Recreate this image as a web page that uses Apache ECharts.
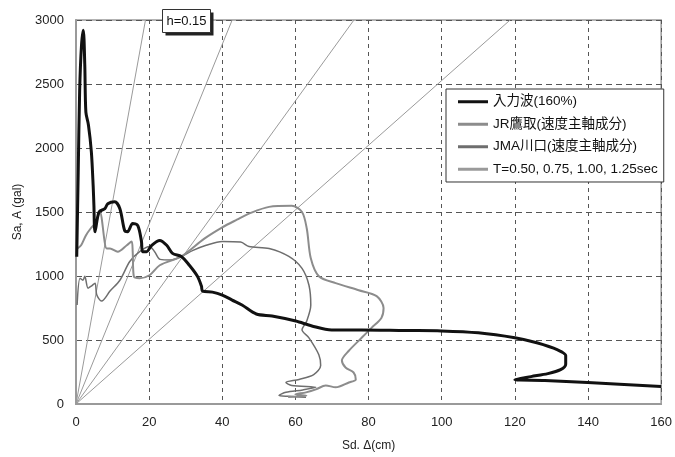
<!DOCTYPE html>
<html>
<head>
<meta charset="utf-8">
<script src="https://cdn.jsdelivr.net/npm/echarts@6/dist/echarts.min.js"></script>
<style>
  html, body { margin: 0; padding: 0; background: #fff; }
  #main { width: 675px; height: 457px; }
</style>
</head>
<body>
<div id="main"></div>
<script>
// 入力波 (160%)
var sdInput = [0.2, 0.6, 1.0, 1.5, 2.0, 2.4, 2.7, 3.4, 4.2, 4.7, 4.9, 5.2, 6.3, 7.9, 8.7, 10.6, 12.0, 13.3, 14.1, 15.5, 16.9, 17.9, 18.2, 19.3, 20.7, 22.9, 24.8, 26.4, 28.8, 31.0, 33.2, 34.3, 34.6, 37.3, 40.0, 42.7, 45.4, 49.3, 53.6, 60.1, 64.5, 69.9, 78.1, 90.0, 99.9, 110.0, 120.0, 126.0, 131.7, 133.9, 133.9, 132.5, 129.0, 124.4, 120.0, 128.2, 139.9, 160.0];
var saInput = [1150, 1800, 2450, 2800, 2920, 2650, 2280, 2180, 1970, 1700, 1550, 1346, 1500, 1526, 1565, 1580, 1526, 1355, 1346, 1410, 1394, 1270, 1190, 1190, 1240, 1278, 1240, 1177, 1153, 1084, 998, 921, 882, 874, 851, 812, 773, 703, 687, 648, 610, 579, 579, 574, 571, 556, 517, 478, 423, 378, 310, 268, 237, 214, 190, 184, 168, 137];

// JR鷹取
var sdJR = [0.4, 1.4, 2.7, 4.0, 5.2, 6.5, 8.4, 9.3, 11.4, 13.9, 15.2, 15.5, 15.8, 17.4, 20.1, 22.9, 28.8, 35.0, 40.0, 44.0, 47.3, 52.8, 59.0, 61.8, 63.1, 64.2, 66.4, 71.0, 77.3, 82.2, 84.1, 83.5, 80.8, 78.1, 74.6, 72.7, 73.7, 75.9, 76.5, 74.6, 71.0, 68.3, 65.6, 62.9, 60.0, 63.0, 58.0];
var saJR = [1215, 1240, 1317, 1371, 1410, 1500, 1215, 1215, 1190, 1240, 1270, 1190, 998, 983, 1006, 1084, 1153, 1290, 1380, 1440, 1487, 1540, 1548, 1500, 1371, 1138, 998, 944, 889, 843, 750, 672, 595, 517, 416, 339, 285, 246, 192, 168, 130, 145, 114, 91, 75, 65, 55];

// JMA川口
var sdJMA = [0.3, 1.1, 1.9, 2.4, 3.3, 4.2, 5.2, 5.7, 7.0, 9.3, 12.0, 14.7, 17.4, 20.1, 21.5, 23.0, 26.0, 28.8, 32.0, 35.6, 40.0, 45.0, 47.3, 52.8, 58.2, 61.8, 63.7, 64.2, 63.1, 61.8, 63.7, 66.4, 66.9, 65.0, 61.0, 57.4, 59.0, 65.6, 62.0, 57.4, 55.5, 58.2, 62.9];
var saJMA = [773, 983, 967, 998, 905, 921, 944, 851, 804, 882, 967, 1113, 1190, 1231, 1190, 1130, 1125, 1153, 1200, 1240, 1270, 1265, 1231, 1215, 1153, 1060, 928, 773, 649, 580, 517, 385, 300, 230, 192, 168, 145, 130, 110, 91, 67, 60, 52];

// T = 0.50, 0.75, 1.00, 1.25 sec (lines from the origin, end points)
var tEndSd = [19.0, 42.7, 76.0, 118.7];
var tEndSa = [3000, 3000, 3000, 3000];

var xTicks = [0, 160, 20];
var yTicks = [0, 3000, 500];

var nameInput = '入力波(160%)';
var nameJR = 'JR鷹取(速度主軸成分)';
var nameJMA = 'JMA川口(速度主軸成分)';
var nameT = 'T=0.50, 0.75, 1.00, 1.25sec';

function pairs(xs, ys) {
  var out = [];
  for (var i = 0; i < xs.length; i++) {
    out.push([xs[i], ys[i]]);
  }
  return out;
}

var chart = echarts.init(document.getElementById('main'));

var font = "'Liberation Sans', 'Noto Sans CJK JP', sans-serif";

var series = [];
for (var i = 0; i < tEndSd.length; i++) {
  series.push({
    name: nameT,
    type: 'line',
    symbol: 'none',
    silent: true,
    z: 1,
    lineStyle: { color: '#9a9a9a', width: 1 },
    itemStyle: { color: '#9a9a9a' },
    data: [[0, 0], [tEndSd[i], tEndSa[i]]]
  });
}
series.push({
  name: nameJMA,
  type: 'line',
  symbol: 'none',
  smooth: 0.3,
  z: 3,
  lineStyle: { color: '#6e6e6e', width: 1.5 },
  itemStyle: { color: '#6e6e6e' },
  data: pairs(sdJMA, saJMA)
});
series.push({
  name: nameJR,
  type: 'line',
  symbol: 'none',
  smooth: 0.3,
  z: 3,
  lineStyle: { color: '#8c8c8c', width: 2 },
  itemStyle: { color: '#8c8c8c' },
  data: pairs(sdJR, saJR)
});
series.push({
  name: nameInput,
  type: 'line',
  symbol: 'none',
  smooth: 0.3,
  z: 4,
  lineStyle: { color: '#111', width: 3 },
  itemStyle: { color: '#111' },
  data: pairs(sdInput, saInput)
});

var option = {
  animation: false,
  textStyle: { fontFamily: font },
  grid: {
    left: 76, right: 10, top: 20, bottom: 50,
    show: true,
    borderColor: '#9a9a9a',
    borderWidth: 1.5
  },
  legend: {
    orient: 'vertical',
    left: 446,
    top: 89,
    padding: [6, 6, 6, 12],
    itemGap: 9,
    itemWidth: 30,
    itemHeight: 3,
    backgroundColor: '#fff',
    borderColor: '#333',
    borderWidth: 1,
    textStyle: { fontSize: 13.5, color: '#111', fontFamily: font },
    data: [
      { name: nameInput, icon: 'rect' },
      { name: nameJR, icon: 'rect' },
      { name: nameJMA, icon: 'rect' },
      { name: nameT, icon: 'rect' }
    ]
  },
  xAxis: {
    type: 'value',
    min: xTicks[0], max: xTicks[1], interval: xTicks[2],
    name: 'Sd. Δ(cm)',
    nameLocation: 'middle',
    nameGap: 36,
    nameTextStyle: { fontSize: 12, color: '#222' },
    axisLine: { show: true, lineStyle: { color: '#9a9a9a', width: 2 } },
    axisTick: { show: false },
    axisLabel: { fontSize: 13, color: '#222', margin: 12 },
    splitLine: { show: true, lineStyle: { color: '#555', width: 1, type: [4, 4] } }
  },
  yAxis: {
    type: 'value',
    min: yTicks[0], max: yTicks[1], interval: yTicks[2],
    name: 'Sa, A (gal)',
    nameLocation: 'middle',
    nameGap: 48,
    nameRotate: 90,
    nameTextStyle: { fontSize: 12, color: '#222' },
    axisLine: { show: true, lineStyle: { color: '#9a9a9a', width: 2 } },
    axisTick: { show: false },
    axisLabel: { fontSize: 13, color: '#222', margin: 12, formatter: function (v) { return String(v); } },
    splitLine: { show: true, lineStyle: { color: '#555', width: 1, type: [6, 4] } }
  },
  graphic: [{
    type: 'group',
    left: 162,
    top: 9,
    z: 100,
    children: [
      { type: 'rect', z: 100, shape: { x: 3, y: 3, width: 48, height: 23 }, style: { fill: '#222' } },
      { type: 'rect', z: 101, shape: { x: 0, y: 0, width: 48, height: 23 }, style: { fill: '#fff', stroke: '#333', lineWidth: 1 } },
      { type: 'text', z: 102, style: { x: 24, y: 12, text: 'h=0.15', fontSize: 13, fill: '#111', align: 'center', verticalAlign: 'middle', fontFamily: font } }
    ]
  }],
  series: series
};

chart.setOption(option);
</script>
</body>
</html>
